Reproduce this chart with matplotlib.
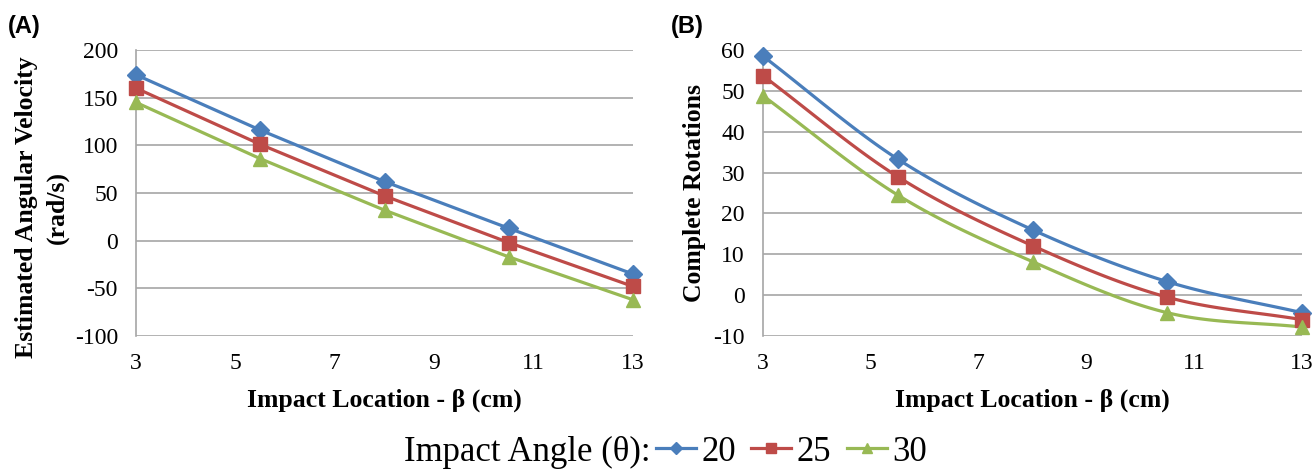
import numpy as np
import matplotlib
matplotlib.use("Agg")
import matplotlib.pyplot as plt
from matplotlib.lines import Line2D

plt.rcParams["axes.unicode_minus"] = False

# ---- data ----
impact_location = [3, 5.5, 8, 10.5, 13]
angles = ["20", "25", "30"]
ang_vel_20 = [174, 116, 62, 13, -35]
ang_vel_25 = [160, 101, 47, -2, -48]
ang_vel_30 = [145, 86, 32, -17, -62]
rot_20 = [58.5, 33.3, 16.0, 3.3, -4.3]
rot_25 = [53.7, 29.0, 12.1, -0.5, -6.0]
rot_30 = [48.8, 24.5, 8.2, -4.3, -7.8]
x_ticks = [3, 5, 7, 9, 11, 13]
yticks_a = [-100, -50, 0, 50, 100, 150, 200]
yticks_b = [-10, 0, 10, 20, 30, 40, 50, 60]

colors = ["#4a7ebb", "#be4b48", "#98b954"]
markers = ["D", "s", "^"]
msizes = [9, 10.5, 10.5]

serif = ["Liberation Serif", "DejaVu Serif"]
sans = ["Liberation Sans", "DejaVu Sans"]
LABEL_FS = 18.5
TICK_FS = 17


def smooth(x, y, n=30):
    """Catmull-Rom style smoothing path through the points (rendering only)."""
    x = np.asarray(x, float)
    y = np.asarray(y, float)
    px = np.concatenate([[2 * x[0] - x[1]], x, [2 * x[-1] - x[-2]]])
    py = np.concatenate([[2 * y[0] - y[1]], y, [2 * y[-1] - y[-2]]])
    xs, ys = [], []
    for i in range(1, len(px) - 2):
        t = np.linspace(0, 1, n, endpoint=(i == len(px) - 3))
        for arr, out in ((px, xs), (py, ys)):
            p0, p1, p2, p3 = arr[i - 1], arr[i], arr[i + 1], arr[i + 2]
            out.extend(0.5 * ((2 * p1) + (-p0 + p2) * t
                              + (2 * p0 - 5 * p1 + 4 * p2 - p3) * t ** 2
                              + (-p0 + 3 * p1 - 3 * p2 + p3) * t ** 3))
    return np.array(xs), np.array(ys)


fig = plt.figure(figsize=(13.15, 4.69), dpi=100)
W, H = 1315, 469
axA = fig.add_axes([136 / W, 1 - 336 / H, (633 - 136) / W, (336 - 50) / H])
axB = fig.add_axes([763 / W, 1 - 336 / H, (1302 - 763) / W, (336 - 50) / H])


def style(ax, yticks):
    ax.set_xlim(3, 13)
    ax.set_ylim(yticks[0], yticks[-1])
    ax.set_xticks(x_ticks)
    ax.set_yticks(yticks)
    ax.grid(axis="y", color="#a6a6a6", linewidth=1.2)
    ax.set_axisbelow(True)
    for s in ["top", "right", "bottom"]:
        ax.spines[s].set_visible(False)
    ax.spines["left"].set_color("#a6a6a6")
    ax.spines["left"].set_linewidth(1.2)
    ax.tick_params(axis="y", length=0, pad=13)
    ax.tick_params(axis="x", length=0, pad=12)
    for lab in ax.get_xticklabels() + ax.get_yticklabels():
        lab.set_fontfamily(serif)
        lab.set_fontsize(TICK_FS)


seriesA = [ang_vel_20, ang_vel_25, ang_vel_30]
seriesB = [rot_20, rot_25, rot_30]
for ys, c, m, ms in zip(seriesA, colors, markers, msizes):
    axA.plot(impact_location, ys, color=c, lw=2.3, marker=m, ms=ms,
             clip_on=False, zorder=3)
for ys, c, m, ms in zip(seriesB, colors, markers, msizes):
    sx, sy = smooth(impact_location, ys)
    axB.plot(sx, sy, color=c, lw=2.3, clip_on=False, zorder=3)
    axB.plot(impact_location, ys, color=c, lw=0, marker=m, ms=ms,
             clip_on=False, zorder=4)

style(axA, yticks_a)
style(axB, yticks_b)

# axis titles
for cx in ((136 + 633) / 2, (763 + 1302) / 2):
    fig.text(cx / W, 1 - 400 / H, "Impact Location - β (cm)", fontfamily=serif,
             fontweight="bold", fontsize=LABEL_FS, ha="center", va="center")
fig.text(42 / W, 1 - 207 / H, "Estimated Angular Velocity\n(rad/s)",
         fontfamily=serif, fontweight="bold", fontsize=LABEL_FS, rotation=90,
         ha="center", va="center", multialignment="center", linespacing=1.45)
fig.text(695 / W, 1 - 193 / H, "Complete Rotations",
         fontfamily=serif, fontweight="bold", fontsize=LABEL_FS, rotation=90,
         ha="center", va="center")

fig.text(8 / W, 1 - 27 / H, "(A)", fontfamily=sans,
         fontweight="bold", fontsize=17, va="center", ha="left")
fig.text(671 / W, 1 - 27 / H, "(B)", fontfamily=sans,
         fontweight="bold", fontsize=17, va="center", ha="left")

# legend
fig.text(651 / W, 1 - 452 / H, "Impact Angle (θ):", fontfamily=serif,
         fontsize=25, va="center", ha="right")
handles = [Line2D([], [], color=c, lw=2.3, marker=m, ms=ms * 0.7)
           for c, m, ms in zip(colors, markers, msizes)]
fig.legend(handles, angles, loc="center left", bbox_to_anchor=(656 / W, 1 - 452 / H),
           ncol=3, frameon=False, prop={"family": serif, "size": 25},
           handlelength=1.15, handletextpad=0.15, columnspacing=0.45,
           borderpad=0, borderaxespad=0)

fig.savefig("out.png", dpi=100)
